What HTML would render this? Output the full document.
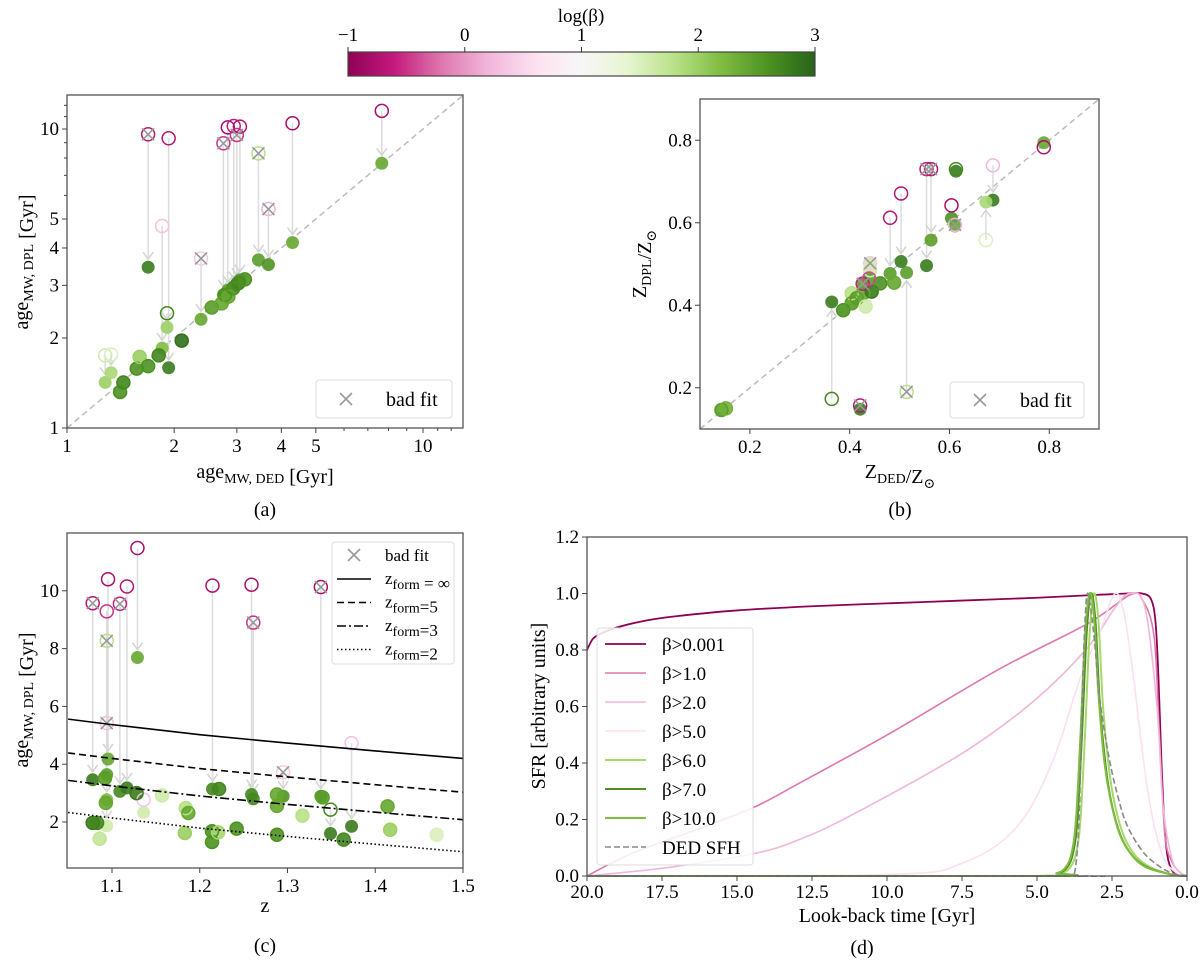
<!DOCTYPE html>
<html><head><meta charset="utf-8"><title>Figure</title>
<style>
html,body{margin:0;padding:0;background:#fff;}
svg{display:block;font-family:"Liberation Serif","DejaVu Serif",serif;}
</style></head>
<body>
<svg id="fig" width="1200" height="964" viewBox="0 0 1200 964" xmlns="http://www.w3.org/2000/svg">
<defs>
<linearGradient id="piyg" x1="0" x2="1" y1="0" y2="0">
<stop offset="0" stop-color="#8e0152"/><stop offset="0.1" stop-color="#c51b7d"/><stop offset="0.2" stop-color="#de77ae"/><stop offset="0.3" stop-color="#f1b6da"/><stop offset="0.4" stop-color="#fde0ef"/><stop offset="0.5" stop-color="#f7f7f7"/><stop offset="0.6" stop-color="#e6f5d0"/><stop offset="0.7" stop-color="#b8e186"/><stop offset="0.8" stop-color="#7fbc41"/><stop offset="0.9" stop-color="#4d9221"/><stop offset="1" stop-color="#276419"/>
</linearGradient>
</defs>
<g>
<rect x="348" y="52" width="467" height="24" fill="url(#piyg)" stroke="#444" stroke-width="1.2"/>
<text x="581" y="22" font-size="19" text-anchor="middle">log(β)</text>
</g>
<g id="layer"></g>
</svg>
<script>
// ---------- data ----------
const cbTicks = [-1, 0, 1, 2, 3];
const cbTickLabels = ['−1', '0', '1', '2', '3'];
// panel (a): [ageDED, ageDPL_initial, ageDPL_final, logbeta_initial, logbeta_final, badfit]
const ageRows = [
[1.69,9.60,3.45,-0.7,2.8,1],[1.93,9.31,1.59,-0.7,2.8,0],[1.85,4.74,1.85,0.3,2.2,0],
[2.38,3.69,2.31,0.4,2.4,1],[2.75,8.96,2.79,-0.5,2.5,1],[2.83,10.13,2.89,-0.8,2.5,0],
[2.94,10.23,2.97,-0.6,2.6,0],[3.00,9.55,3.05,-0.5,2.7,1],[3.06,10.18,3.13,-0.7,2.6,0],
[3.45,8.29,3.65,1.8,2.5,1],[3.68,5.40,3.52,0.2,2.6,1],[4.30,10.45,4.17,-0.8,2.4,0],
[7.66,11.5,7.68,-0.8,2.4,0],[1.28,1.75,1.42,1.6,2.0,0],[1.33,1.76,1.53,1.5,1.9,0],
[1.91,2.42,2.17,2.7,2.0,0],
[1.41,1.32,1.32,2.6,2.6,0],[1.44,1.42,1.42,2.7,2.7,0],[1.57,1.58,1.58,2.6,2.6,0],
[1.60,1.73,1.73,2.0,2.0,0],[1.69,1.61,1.61,2.6,2.6,0],[1.81,1.75,1.75,2.7,2.7,0],
[2.10,1.96,1.96,2.9,2.9,0],[2.55,2.53,2.53,2.5,2.5,0],[2.72,2.61,2.61,2.4,2.4,0],
[2.78,2.79,2.79,2.6,2.6,0],[2.84,2.75,2.75,2.4,2.4,0],[2.93,2.93,2.93,2.6,2.6,0],
[3.03,3.05,3.05,2.7,2.7,0],[3.16,3.14,3.14,2.6,2.6,0]
];
// panel (b): [Z_DED, Z_DPL_initial, Z_DPL_final, logbeta_initial, logbeta_final, badfit]
const metRows = [
[0.364,0.173,0.408,2.7,2.8,0],[0.514,0.190,0.479,1.8,2.5,1],[0.421,0.157,0.148,-0.7,2.8,1],
[0.481,0.612,0.477,-0.7,2.5,0],[0.503,0.671,0.506,-0.7,2.8,0],[0.554,0.730,0.496,-0.6,2.8,1],
[0.563,0.730,0.558,-0.7,2.5,1],[0.613,0.730,0.725,2.7,2.8,0],[0.687,0.739,0.655,0.2,2.8,0],
[0.673,0.558,0.650,1.5,1.9,0],[0.789,0.783,0.794,-0.8,2.4,0],[0.604,0.642,0.611,-0.8,2.6,0],
[0.611,0.595,0.592,0.2,2.4,1],
[0.143,0.146,0.146,2.5,2.5,0],[0.152,0.150,0.150,2.3,2.3,0],[0.387,0.388,0.388,2.6,2.6,0],
[0.404,0.429,0.429,1.8,1.8,0],[0.404,0.405,0.405,2.5,2.5,0],[0.414,0.417,0.417,2.5,2.5,0],
[0.427,0.429,0.429,2.4,2.4,0],[0.432,0.397,0.397,1.6,1.6,0],[0.444,0.433,0.433,2.8,2.8,0],
[0.461,0.453,0.453,2.6,2.6,0],[0.441,0.485,0.485,1.6,1.6,0],[0.489,0.455,0.455,2.4,2.4,0],
[0.426,0.452,0.452,-0.6,2.5,1],[0.439,0.465,0.465,-0.4,2.5,0],[0.441,0.502,0.502,0.4,1.6,1]
];
// panel (c): [z, ageDPL_initial, ageDPL_final, logbeta_initial, logbeta_final, badfit]
const zRows = [
[1.078,9.57,3.46,-0.7,2.8,1],[1.0955,10.40,4.18,-0.8,2.4,0],[1.094,9.29,3.64,-0.5,2.5,0],
[1.094,8.27,2.77,1.8,2.2,1],[1.094,5.42,1.87,0.3,1.6,1],[1.109,9.55,3.06,-0.6,2.7,1],
[1.117,10.15,3.18,-0.7,2.8,0],[1.129,11.48,7.69,-0.8,2.4,0],[1.2145,10.18,3.14,-0.8,2.7,0],
[1.259,10.21,2.95,-0.8,2.7,0],[1.261,8.90,2.80,-0.5,2.7,1],[1.338,10.13,2.89,-0.8,2.6,1],
[1.373,4.73,1.85,0.3,2.8,0],[1.295,3.72,2.89,0.4,2.6,1],[1.349,2.43,1.60,2.7,2.8,0],
[1.136,2.77,2.33,0.3,1.6,0],
[1.078,1.97,1.97,2.8,2.8,0],[1.083,1.97,1.97,2.7,2.7,0],[1.086,1.42,1.42,1.7,1.7,0],
[1.092,3.52,3.52,2.5,2.5,0],[1.093,2.66,2.66,2.4,2.4,0],[1.128,3.0,3.0,2.8,2.8,0],
[1.157,2.92,2.92,1.6,1.6,0],[1.184,2.48,2.48,1.8,1.8,0],[1.187,2.31,2.31,2.4,2.4,0],
[1.183,1.62,1.62,2.0,2.0,0],[1.214,1.68,1.68,2.6,2.6,0],[1.214,1.31,1.31,2.6,2.6,0],
[1.221,1.64,1.64,1.9,1.9,0],[1.242,1.77,1.77,2.6,2.6,0],[1.288,2.95,2.95,2.4,2.4,0],
[1.288,2.56,2.56,2.4,2.4,0],[1.288,1.56,1.56,2.6,2.6,0],[1.317,2.22,2.22,1.8,1.8,0],
[1.364,1.39,1.39,2.7,2.7,0],[1.414,2.54,2.54,2.4,2.4,0],[1.417,1.73,1.73,2.0,2.0,0],
[1.470,1.56,1.56,1.5,1.5,0],[1.222,3.14,3.14,2.7,2.7,0],[1.340,2.85,2.85,2.5,2.5,0]
];
const zformZ = [1.05,1.1,1.2,1.3,1.4,1.5];
const zformInf = [5.56,5.37,5.02,4.73,4.46,4.20];
const zform5 = [4.39,4.20,3.85,3.56,3.29,3.03];
const zform3 = [3.44,3.25,2.90,2.61,2.34,2.08];
const zform2 = [2.33,2.14,1.79,1.50,1.23,0.97];
// panel (d): SFH curves, look-back time [Gyr] and SFR
const sfhLabels = ['β>0.001','β>1.0','β>2.0','β>5.0','β>6.0','β>7.0','β>10.0','DED SFH'];
const t001 = [20,19.8,19.5,19,18,17,15,12.5,10,7.5,5,3,2,1.5,1.2,1.05,0.95,0.85,0.75,0.65,0.5,0.3,0];
const s001 = [0.80,0.84,0.86,0.88,0.905,0.92,0.94,0.955,0.965,0.975,0.985,0.995,1.0,1.0,0.98,0.9,0.7,0.4,0.18,0.07,0.02,0.005,0];
const t1 = [20,18.5,16.2,14.4,12.9,9.9,6.3,3.3,1.9,1.5,1.1,0.92,0.74,0.5,0.2,0];
const s1 = [0,0.08,0.17,0.245,0.33,0.505,0.73,0.894,0.995,0.98,0.85,0.5,0.15,0.05,0.01,0];
const t2 = [20,17.3,14.4,12.9,11.1,7.5,5.1,3.3,2.4,1.9,1.4,1.0,0.8,0.5,0.2,0];
const s2 = [0,0.03,0.08,0.13,0.22,0.434,0.62,0.81,0.95,1.0,0.95,0.6,0.25,0.06,0.01,0];
const t5 = [20,10,7.5,5.7,4.5,3.56,2.85,2.4,2.1,1.78,1.31,0.84,0.4,0];
const s5 = [0,0.005,0.045,0.17,0.40,0.70,0.88,1.0,0.93,0.7,0.3,0.08,0.015,0];
const t6 = [20,5,4.2,3.9,3.7,3.55,3.4,3.25,3.1,2.95,2.8,2.6,2.4,2.1,1.7,1.2,0.5,0];
const s6 = [0,0,0.01,0.03,0.08,0.2,0.5,0.85,1.0,0.9,0.6,0.38,0.25,0.14,0.07,0.03,0.005,0];
const t7 = [20,5,4.3,4.0,3.8,3.65,3.5,3.35,3.2,3.05,2.9,2.7,2.5,2.2,1.8,1.3,0.5,0];
const s7 = [0,0,0.01,0.03,0.08,0.2,0.5,0.85,1.0,0.9,0.6,0.38,0.25,0.14,0.07,0.03,0.005,0];
const t10 = [20,5,4.35,4.05,3.85,3.7,3.55,3.4,3.25,3.1,2.95,2.75,2.55,2.25,1.85,1.35,0.5,0];
const s10 = [0,0,0.01,0.03,0.08,0.2,0.5,0.85,1.0,0.92,0.64,0.4,0.27,0.15,0.075,0.03,0.005,0];
const tDED = [20,4,3.75,3.6,3.5,3.4,3.3,3.1,2.9,2.6,2.3,2.0,1.5,1.0,0.5,0];
const sDED = [0,0,0.01,0.2,0.6,0.9,1.0,0.85,0.62,0.42,0.28,0.18,0.09,0.04,0.01,0];
const dXTicks = [20,17.5,15,12.5,10,7.5,5,2.5,0];
const dYTicks = [0,0.2,0.4,0.6,0.8,1.0,1.2];

// ---------- helpers ----------
const NS='http://www.w3.org/2000/svg';
const layer=document.getElementById('layer');
function mk(tag, attrs, parent){const e=document.createElementNS(NS,tag);for(const k in attrs)e.setAttribute(k,attrs[k]);(parent||layer).appendChild(e);return e;}
const PAL=['#8e0152','#c51b7d','#de77ae','#f1b6da','#fde0ef','#f7f7f7','#e6f5d0','#b8e186','#7fbc41','#4d9221','#276419'];
function hex(h){return [parseInt(h.substr(1,2),16),parseInt(h.substr(3,2),16),parseInt(h.substr(5,2),16)];}
function cmap(v){let f=Math.max(0,Math.min(1,(v+1)/4))*10;let i=Math.min(9,Math.floor(f));let r=f-i;const a=hex(PAL[i]),b=hex(PAL[i+1]);
 return 'rgb('+a.map((c,k)=>Math.round(c+(b[k]-c)*r)).join(',')+')';}

// colorbar ticks
const cbX = v => 348 + (v + 1) / 4 * 467;
cbTicks.forEach((v,i)=>{
 const t=mk('line',{x1:cbX(v),x2:cbX(v),y1:47,y2:52,stroke:'#333','stroke-width':1});
 
 
 const l=mk('text',{x:cbX(v),y:41,'font-size':19,'text-anchor':'middle'});l.textContent=cbTickLabels[i];
 
 
});

function frame(b,name){
 const r=mk('rect',{x:b.x0,y:b.y0,width:b.x1-b.x0,height:b.y1-b.y0,fill:'none',stroke:'#555','stroke-width':1.3});
 
 
}
function xtick(b,px,label,minor,name,off){
 mk('line',{x1:px,x2:px,y1:b.y1,y2:b.y1+(minor?3:5),stroke:'#444','stroke-width':1});
 if(label!==null){const t=mk('text',{x:px,y:b.y1+(off||24),'font-size':19,'text-anchor':'middle'});t.textContent=label;
 
 }
}
function ytick(b,py,label,minor,name){
 mk('line',{x1:b.x0,x2:b.x0-(minor?3:5),y1:py,y2:py,stroke:'#444','stroke-width':1});
 if(label!==null){const t=mk('text',{x:b.x0-8,y:py+6,'font-size':19,'text-anchor':'end'});t.textContent=label;
 
 }
}
function xMarker(cx,cy,g){const s=6;
 mk('path',{d:`M${cx-s},${cy-s}L${cx+s},${cy+s}M${cx-s},${cy+s}L${cx+s},${cy-s}`,stroke:'#999','stroke-width':1.6,fill:'none'},g);}

function scatter(rows,sx,sy,b,name){
 const g=mk('g',{});
 
 
 const cp=mk('clipPath',{id:name+'clip'});mk('rect',{x:b.x0,y:b.y0,width:b.x1-b.x0,height:b.y1-b.y0},cp);
 g.setAttribute('clip-path','url(#'+name+'clip)');
 rows.forEach(r=>{const x=sx(r[0]),yo=sy(r[1]),yf=sy(r[2]);const d=yf-yo;
  if(Math.abs(d)>14){const dir=Math.sign(d);const ye=yf-dir*8;
   mk('line',{x1:x,x2:x,y1:yo,y2:ye,stroke:'#dcdcdc','stroke-width':1.5},g);
   mk('path',{d:`M${x-5},${ye-dir*7}L${x},${ye}L${x+5},${ye-dir*7}`,stroke:'#d4d4d4','stroke-width':1.5,fill:'none'},g);}
 });
 rows.forEach(r=>{const c=mk('circle',{cx:sx(r[0]),cy:sy(r[2]),r:6.5,fill:cmap(r[4]),'fill-opacity':0.9},g);
  
  });
 rows.forEach(r=>{const c=mk('circle',{cx:sx(r[0]),cy:sy(r[1]),r:6.5,fill:'none',stroke:cmap(r[3]),'stroke-width':1.5},g);
  
  });
 rows.forEach(r=>{if(r[5])xMarker(sx(r[0]),sy(r[1]),g);});
}
function legendBox(x,y,w,h,name){const r=mk('rect',{x:x,y:y,width:w,height:h,rx:3,fill:'#fff','fill-opacity':0.85,stroke:'#ddd','stroke-width':1});
 
 }
function label(x,y,html,size,rot,name,anchor){
 const t=mk('text',{x:x,y:y,'font-size':size,'text-anchor':anchor||'middle'});
 if(rot)t.setAttribute('transform',`rotate(-90 ${x} ${y})`);
 t.innerHTML=html;
 
 
 return t;}
const SUB=(s)=>`<tspan font-size="14" dy="5">${s}</tspan><tspan dy="-5"></tspan>`;

// ---------- panel a ----------
{const b={x0:67,y0:95,x1:463,y1:428};
 const sx=v=>67+356*Math.log10(v), sy=v=>428-299*Math.log10(v);
 mk('line',{x1:sx(1),y1:sy(1),x2:sx(13),y2:sy(13),stroke:'#bbb','stroke-width':1.5,'stroke-dasharray':'6,4'});
 scatter(ageRows,sx,sy,b,'panel-a');
 frame(b,'panel-a');
 [1,2,3,4,5,10].forEach(v=>{xtick(b,sx(v),String(v),false,'panel-a');ytick(b,sy(v),String(v),false,'panel-a');});
 [6,7,8,9,11,12].forEach(v=>{xtick(b,sx(v),null,true,'panel-a');ytick(b,sy(v),null,true,'panel-a');});
 legendBox(316,380,136,38,'panel-a-legend');xMarker(346,399,layer);
 label(386,406,'bad fit',20,false,'panel-a-legend-label','start');
 label(265,478,'age'+SUB('MW, DED')+' [Gyr]',20,false,'panel-a-x-axis-title');
 label(28,262,'age'+SUB('MW, DPL')+' [Gyr]',20,true,'panel-a-y-axis-title');
 label(265,516,'(a)',20,false,'panel-a-caption');
}
// ---------- panel b ----------
{const b={x0:700,y0:99,x1:1099,y1:429};
 const sx=v=>700+499*(v-0.1), sy=v=>429-412.5*(v-0.1);
 mk('line',{x1:sx(0.1),y1:sy(0.1),x2:sx(0.9),y2:sy(0.9),stroke:'#bbb','stroke-width':1.5,'stroke-dasharray':'6,4'});
 scatter(metRows,sx,sy,b,'panel-b');
 frame(b,'panel-b');
 [0.2,0.4,0.6,0.8].forEach(v=>{xtick(b,sx(v),v.toFixed(1),false,'panel-b');ytick(b,sy(v),v.toFixed(1),false,'panel-b');});
 legendBox(950,382,134,36,'panel-b-legend');xMarker(980,400,layer);
 label(1020,407,'bad fit',20,false,'panel-b-legend-label','start');
 label(900,478,'Z'+SUB('DED')+'/Z'+SUB('⊙'),20,false,'panel-b-x-axis-title');
 label(646,264,'Z'+SUB('DPL')+'/Z'+SUB('⊙'),20,true,'panel-b-y-axis-title');
 label(900,516,'(b)',20,false,'panel-b-caption');
}
// ---------- panel c ----------
{const b={x0:67,y0:533,x1:463,y1:868};
 const sx=v=>112+877.5*(v-1.1), sy=v=>822-28.9*(v-2);
 scatter(zRows,sx,sy,b,'panel-c');
 const styles=[[zformInf,'none'],[zform5,'7,4'],[zform3,'9,3,2,3'],[zform2,'1.5,2.5']];
 const names=['zform-inf-line','zform-5-line','zform-3-line','zform-2-line'];
 styles.forEach((s,k)=>{const p=mk('polyline',{points:zformZ.map((z,i)=>sx(z)+','+sy(s[0][i])).join(' '),fill:'none',stroke:'#000','stroke-width':1.6,'stroke-dasharray':s[1]});
  
  });
 frame(b,'panel-c');
 [1.1,1.2,1.3,1.4,1.5].forEach(v=>xtick(b,sx(v),v.toFixed(1),false,'panel-c'));
 [2,4,6,8,10].forEach(v=>ytick(b,sy(v),String(v),false,'panel-c'));
 legendBox(332,542,122,122,'panel-c-legend');xMarker(354,555,layer);
 label(385,561,'bad fit',17,false,'panel-c-legend-label','start');
 const lt=[['z'+SUB('form')+' = ∞','none'],['z'+SUB('form')+'=5','7,4'],['z'+SUB('form')+'=3','9,3,2,3'],['z'+SUB('form')+'=2','1.5,2.5']];
 lt.forEach((e,i)=>{const yy=579+i*23.5;mk('line',{x1:337,x2:371,y1:yy,y2:yy,stroke:'#000','stroke-width':1.6,'stroke-dasharray':e[1]});
  label(385,yy+5,e[0],17,false,'panel-c-legend-label','start');});
 label(265,912,'z',20,false,'panel-c-x-axis-title');
 label(28,700,'age'+SUB('MW, DPL')+' [Gyr]',20,true,'panel-c-y-axis-title');
 label(265,952,'(c)',20,false,'panel-c-caption');
}
// ---------- panel d ----------
{const b={x0:587,y0:537,x1:1187,y1:876};
 const sx=t=>1187-30*t, sy=s=>876-282.5*s;
 const series=[[t001,s001,'#8e0152',1.8,'none'],[t1,s1,'#de77ae',1.6,'none'],[t2,s2,'#f1b6da',1.6,'none'],[t5,s5,'#fde0ef',1.6,'none'],
  [t6,s6,'#a6d96a',2,'none'],[t7,s7,'#4d9221',2,'none'],[t10,s10,'#7fbc41',2,'none'],[tDED,sDED,'#888',1.6,'6,3']];
 const cp=mk('clipPath',{id:'dclip'});mk('rect',{x:b.x0,y:b.y0,width:600,height:340},cp);
 const g=mk('g',{'clip-path':'url(#dclip)'});
 
 
 series.forEach((s,k)=>{const pts=s[0].map((t,i)=>[sx(t),sy(s[1][i])]);
  let d='M'+pts[0][0]+','+pts[0][1];
  for(let i=1;i<pts.length;i++){const p0=pts[Math.max(0,i-2)],p1=pts[i-1],p2=pts[i],p3=pts[Math.min(pts.length-1,i+1)];
   const c1x=p1[0]+(p2[0]-p0[0])/6,c1y=p1[1]+(p2[1]-p0[1])/6,c2x=p2[0]-(p3[0]-p1[0])/6,c2y=p2[1]-(p3[1]-p1[1])/6;
   d+=`C${c1x},${c1y} ${c2x},${c2y} ${p2[0]},${p2[1]}`;}
  const p=mk('path',{d:d,fill:'none',stroke:s[2],'stroke-width':s[3],'stroke-dasharray':s[4]},g);
  
  
 });
 frame(b,'panel-d');
 dXTicks.forEach(v=>xtick(b,sx(v),v.toFixed(1),false,'panel-d',22));
 dYTicks.forEach(v=>ytick(b,sy(v),v.toFixed(1),false,'panel-d'));
 legendBox(597,628,156,237,'panel-d-legend');
 sfhLabels.forEach((lab,i)=>{const yy=644+i*29;const s=series[i];
  mk('line',{x1:605,x2:646,y1:yy,y2:yy,stroke:s[2],'stroke-width':s[3],'stroke-dasharray':s[4]});
  label(662,yy+7,lab,19,false,'panel-d-legend-label','start');});
 label(887,922,'Look-back time [Gyr]',20,false,'panel-d-x-axis-title');
 label(545,706,'SFR [arbitrary units]',20,true,'panel-d-y-axis-title');
 label(862,954,'(d)',20,false,'panel-d-caption');
}
</script>
</body></html>
